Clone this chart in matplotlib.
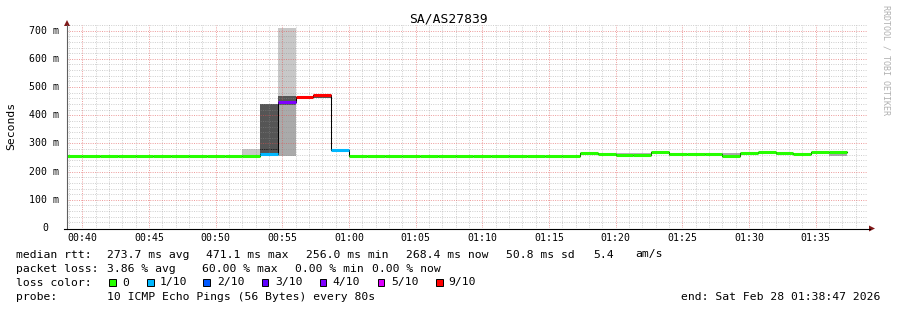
import numpy as np
import matplotlib
matplotlib.use("Agg")
import matplotlib.pyplot as plt
from matplotlib.patches import Rectangle, Polygon
from matplotlib.lines import Line2D
from matplotlib.transforms import Affine2D, blended_transform_factory

W, H = 897, 310
MONO = "DejaVu Sans Mono"
LEG_FS = 8.2
AX_FS = 7.1

# time axis in minutes after midnight
x_start, x_end = 38.85, 98.85
first_bin = 38 + 40 / 60.0      # 00:38:40, one bin = 80 s
step_min = 80 / 60.0

### median rtt (ms) per 80s bin
median_ms = [256, 256, 256, 256, 256, 256, 256, 256, 256, 256, 256,
             262, 448, 465, 471, 277,
             256, 256, 256, 256, 256, 256, 256, 256, 256, 256, 256, 256, 256,
             265, 261, 260, 260, 268, 263, 261, 264, 257, 267, 268, 267, 261, 270, 268]
### lost pings out of 10
loss_tenths = [0, 0, 0, 0, 0, 0, 0, 0, 0, 0, 0,
               1, 4, 9, 9, 1,
               0, 0, 0, 0, 0, 0, 0, 0, 0, 0, 0, 0, 0,
               0, 0, 0, 0, 0, 0, 0, 0, 0, 0, 0, 0, 0, 0, 0]

### smoke layers: bin index, low, high, shade
smoke_bin = [10, 11, 11, 12, 12, 12, 14, 29, 31, 32, 33, 34, 36, 37, 38, 40, 42, 43]
smoke_lo = [256, 258, 275, 256, 256, 438, 462, 258, 258, 258, 261, 257, 261, 257, 261, 259, 261, 256]
smoke_hi = [280, 440, 279, 709, 438, 468, 471, 265, 266, 266, 268, 263, 267, 266, 267, 267, 270, 268]
smoke_shade = ["#c8c8c8", "#555555", "#222222", "#c8c8c8", "#aaaaaa", "#555555", "#555555",
               "#777777", "#b4b4b4", "#b4b4b4", "#777777", "#aaaaaa", "#aaaaaa", "#aaaaaa",
               "#aaaaaa", "#aaaaaa", "#aaaaaa", "#aaaaaa"]

loss_levels = [0, 1, 2, 3, 4, 5, 9]
loss_names = ["0", "1/10", "2/10", "3/10", "4/10", "5/10", "9/10"]
loss_colors = ["#26ff00", "#00b8ff", "#0059ff", "#5e00ff", "#7e00ff", "#dd00ff", "#ff0000"]

ytick_vals = [0, 100, 200, 300, 400, 500, 600, 700]
ytick_text = ["0", "100 m", "200 m", "300 m", "400 m", "500 m", "600 m", "700 m"]
xtick_vals = [40, 45, 50, 55, 60, 65, 70, 75, 80, 85, 90, 95]

title = "SA/AS27839"
legend_lines = [
    ("median rtt:", [(107, "273.7 ms avg"), (206.5, "471.1 ms max"), (306.5, "256.0 ms min"),
                     (406, "268.4 ms now"), (506.5, "50.8 ms sd"), (593, "5.4"), (635, "am/s")]),
    ("packet loss:", [(107, "3.86 % avg"), (202, "60.00 % max"), (295, "0.00 % min"), (372.5, "0.00 % now")]),
    ("loss color:", []),
    ("probe:", [(107, "10 ICMP Echo Pings (56 Bytes) every 80s")]),
]
end_text = "end: Sat Feb 28 01:38:47 2026"


def color_for(loss):
    c = loss_colors[0]
    for lv, col in zip(loss_levels, loss_colors):
        if loss >= lv:
            c = col
    return c


fig = plt.figure(figsize=(W / 100, H / 100), dpi=100)
px = Affine2D().scale(1.0 / W, -1.0 / H).translate(0, 1) + fig.transFigure

ax_l, ax_r, ax_b, ax_t = 67, 867, 228, 25
ax = fig.add_axes([ax_l / W, 1 - ax_b / H, (ax_r - ax_l) / W, (ax_b - ax_t) / H])
ax.set_xlim(x_start, x_end)
ax.set_ylim(0, 720)
for s in ax.spines.values():
    s.set_visible(False)

n = len(median_ms)
edges = first_bin + step_min * np.arange(n + 1)

# smoke
for b, lo, hi, sh in zip(smoke_bin, smoke_lo, smoke_hi, smoke_shade):
    ax.bar(edges[b], hi - lo, bottom=lo, width=step_min, align="edge",
           color=sh, linewidth=0, zorder=1)

# grid on top of the smoke
ax.set_xticks(xtick_vals)
ax.set_xticks(np.arange(39, 99, 1), minor=True)
ax.set_yticks(ytick_vals)
ax.set_yticks(np.arange(0, 721, 20), minor=True)
ax.tick_params(which="both", length=0, labelbottom=False, labelleft=False)
ax.set_axisbelow(False)
ax.grid(which="minor", color="#8f8f8f", alpha=0.42, lw=0.72, linestyle=(0, (1, 1.3)))
ax.grid(which="major", color="#e05050", alpha=0.55, lw=0.72, linestyle=(0, (1, 1.3)))

# black median step line
ax.step(edges, list(median_ms) + [median_ms[-1]], where="post", color="#000000",
        lw=0.75, zorder=3)
# loss coloured median
for i in range(n):
    ax.hlines(median_ms[i], edges[i], edges[i + 1], colors=color_for(loss_tenths[i]),
              lw=2.2, zorder=4, capstyle="butt")

# axis lines with arrows
fig.add_artist(Line2D([67, 67], [228.5, 25], transform=px, color="#606060", lw=0.8))
fig.add_artist(Line2D([64, 870], [228.5, 228.5], transform=px, color="#000000", lw=0.8))
fig.add_artist(Polygon([[64, 26], [70, 26], [67, 20]], closed=True, transform=px,
                       facecolor="#801818", edgecolor="none"))
fig.add_artist(Polygon([[869, 225.5], [869, 231.5], [875, 228.5]], closed=True, transform=px,
                       facecolor="#801818", edgecolor="none"))

# tick labels
ytr = blended_transform_factory(px, ax.transData)
for v, t in zip(ytick_vals, ytick_text):
    if v == 0:
        ax.text(45.5, v, t, transform=ytr, ha="center", va="center", family=MONO, fontsize=AX_FS)
    else:
        ax.text(59, v, t, transform=ytr, ha="right", va="center", family=MONO, fontsize=AX_FS)
xtr = blended_transform_factory(ax.transData, px)
for v in xtick_vals:
    ax.text(v, 238, "%02d:%02d" % (v // 60, v % 60), transform=xtr, ha="center",
            va="center", family=MONO, fontsize=AX_FS)

# title, unit label, watermark
fig.text(448, 19.5, title, transform=px, ha="center", va="center", family=MONO, fontsize=9.4)
fig.text(11, 126, "Seconds", transform=px, ha="center", va="center", rotation=90,
         family=MONO, fontsize=LEG_FS)
fig.text(886, 60, "RRDTOOL / TOBI OETIKER", transform=px, ha="center", va="center",
         rotation=270, family=MONO, fontsize=6, color="#b0b0b0")

# legend
line_y = [254.5, 268.5, 282.5, 296.5]
for (head, parts), yy in zip(legend_lines, line_y):
    fig.text(16, yy, head, transform=px, ha="left", va="center", family=MONO, fontsize=LEG_FS)
    for xx, t in parts:
        fig.text(xx, yy, t, transform=px, ha="left", va="center", family=MONO, fontsize=LEG_FS)

box_x = [109, 147, 203, 261.5, 319.5, 377.5, 436]
lab_x = [122, 160, 217, 275, 332.5, 391, 448.5]
for bx, lx, col, nm in zip(box_x, lab_x, loss_colors, loss_names):
    fig.add_artist(Rectangle((bx, 279), 6.5, 6.5, transform=px, facecolor=col,
                             edgecolor="#000000", lw=0.7))
    fig.text(lx, 282.5, nm, transform=px, ha="left", va="center", family=MONO, fontsize=LEG_FS)

fig.text(880, 296.5, end_text, transform=px, ha="right", va="center", family=MONO, fontsize=LEG_FS)

fig.savefig("out.png", dpi=100)
